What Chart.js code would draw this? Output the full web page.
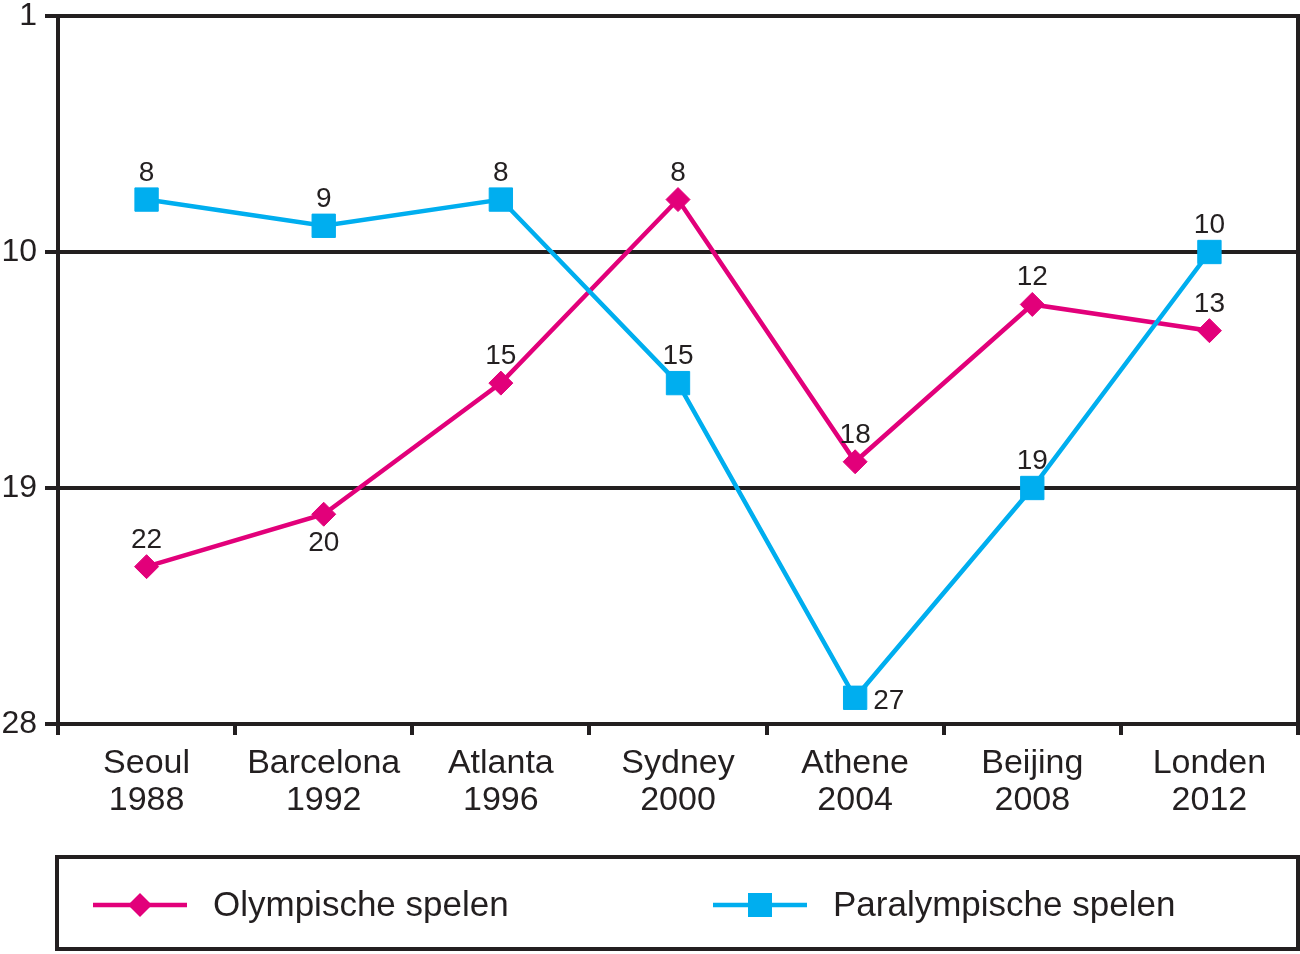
<!DOCTYPE html>
<html>
<head>
<meta charset="utf-8">
<script src="https://cdn.jsdelivr.net/npm/chart.js@4/dist/chart.umd.min.js"></script>
<style>
  body { margin: 0; background: #fff; }
  canvas { display: block; }
</style>
</head>
<body>
<canvas id="myChart" width="1300" height="954"></canvas>
<script>
// data (rangorde in medaillespiegel, 1 = bovenaan)
const categories = [["Seoul", "1988"], ["Barcelona", "1992"], ["Atlanta", "1996"], ["Sydney", "2000"], ["Athene", "2004"], ["Beijing", "2008"], ["Londen", "2012"]];
const olympisch = [22, 20, 15, 8, 18, 12, 13];
const paralympisch = [8, 9, 8, 15, 27, 19, 10];
const yTicks = [1, 10, 19, 28];
// where the value label sits relative to its point
const olympischLabelPos = ["top", "bottom", "top", "top", "top", "top", "top"];
const paralympischLabelPos = ["top", "top", "top", "top", "right", "top", "top"];

const ink = "#231f20";
const magenta = "#e2007a";
const cyaan = "#00aeef";
const fam = "'Liberation Sans', Arial, sans-serif";

// black frame round the plot area
const frame = {
    id: "frame",
    beforeDatasetsDraw(chart) {
        const a = chart.chartArea;
        const ctx = chart.ctx;
        ctx.save();
        ctx.lineWidth = 4;
        ctx.strokeStyle = ink;
        ctx.strokeRect(a.left, a.top, a.right - a.left, a.bottom - a.top);
        ctx.restore();
    }
};

// numbers next to the points
const valueLabels = {
    id: "valueLabels",
    afterDatasetsDraw(chart) {
        const ctx = chart.ctx;
        ctx.save();
        ctx.font = "28px " + fam;
        ctx.fillStyle = ink;
        chart.data.datasets.forEach((ds, i) => {
            const meta = chart.getDatasetMeta(i);
            meta.data.forEach((pt, j) => {
                const txt = String(ds.data[j]);
                const pos = ds.labelPos[j];
                ctx.textBaseline = "alphabetic";
                if (pos === "top") {
                    ctx.textAlign = "center";
                    ctx.fillText(txt, pt.x, pt.y - 19);
                } else if (pos === "bottom") {
                    ctx.textAlign = "center";
                    ctx.fillText(txt, pt.x, pt.y + 37);
                } else {
                    ctx.textAlign = "left";
                    ctx.fillText(txt, pt.x + 18, pt.y + 11);
                }
            });
        });
        ctx.restore();
    }
};

// legend in a framed box under the axis
const legendBox = {
    id: "legendBox",
    afterDraw(chart) {
        const a = chart.chartArea;
        const ctx = chart.ctx;
        ctx.save();
        ctx.lineWidth = 4;
        ctx.strokeStyle = ink;
        ctx.strokeRect(a.left - 1, 857, a.right - a.left + 1, 92);
        const cy = 905;
        const starts = [a.left + 35, a.left + 655];
        chart.data.datasets.forEach((ds, i) => {
            const x0 = starts[i];
            ctx.strokeStyle = ds.borderColor;
            ctx.lineWidth = 4.5;
            ctx.beginPath();
            ctx.moveTo(x0, cy);
            ctx.lineTo(x0 + 94, cy);
            ctx.stroke();
            const mx = x0 + 47;
            ctx.fillStyle = ds.borderColor;
            ctx.beginPath();
            if (ds.pointStyle === "rectRot") {
                ctx.moveTo(mx - 12, cy);
                ctx.lineTo(mx, cy - 12);
                ctx.lineTo(mx + 12, cy);
                ctx.lineTo(mx, cy + 12);
                ctx.closePath();
            } else {
                ctx.rect(mx - 12, cy - 12, 24, 24);
            }
            ctx.fill();
            ctx.fillStyle = ink;
            ctx.font = "35px " + fam;
            ctx.textAlign = "left";
            ctx.textBaseline = "middle";
            ctx.fillText(ds.label, x0 + 120, cy + 1);
        });
        ctx.restore();
    }
};

new Chart("myChart", {
    type: "line",
    data: {
        labels: categories,
        datasets: [{
            label: "Olympische spelen",
            data: olympisch,
            labelPos: olympischLabelPos,
            borderColor: magenta,
            backgroundColor: magenta,
            borderWidth: 4.5,
            pointStyle: "rectRot",
            pointRadius: 12,
            pointBorderWidth: 1,
            pointBackgroundColor: magenta,
            pointBorderColor: magenta,
            tension: 0,
            order: 1
        }, {
            label: "Paralympische spelen",
            data: paralympisch,
            labelPos: paralympischLabelPos,
            borderColor: cyaan,
            backgroundColor: cyaan,
            borderWidth: 4.5,
            pointStyle: "rect",
            pointRadius: 16.5,
            pointBorderWidth: 1,
            pointBackgroundColor: cyaan,
            pointBorderColor: cyaan,
            tension: 0,
            order: 0
        }]
    },
    options: {
        responsive: false,
        animation: false,
        devicePixelRatio: 1,
        events: [],
        layout: { autoPadding: false, padding: { top: 16, right: 2, left: 0, bottom: 0 } },
        plugins: {
            legend: { display: false },
            tooltip: { enabled: false },
            title: { display: false }
        },
        scales: {
            x: {
                offset: true,
                border: { display: false },
                grid: {
                    offset: true,
                    drawOnChartArea: false,
                    drawTicks: true,
                    tickLength: 11,
                    color: ink,
                    lineWidth: 4
                },
                ticks: {
                    color: ink,
                    padding: 10,
                    maxRotation: 0,
                    autoSkip: false,
                    font: { family: fam, size: 34, lineHeight: 1.1 }
                },
                afterFit(scale) {
                    scale.height = 230;
                    scale.paddingLeft = 0;
                    scale.paddingRight = 0;
                }
            },
            y: {
                reverse: true,
                min: 1,
                max: 28,
                border: { display: false },
                grid: {
                    drawTicks: true,
                    tickLength: 13,
                    color: ink,
                    lineWidth: 4
                },
                ticks: {
                    color: ink,
                    padding: 8,
                    font: { family: fam, size: 32 }
                },
                afterBuildTicks(scale) {
                    scale.ticks = yTicks.map(v => ({ value: v }));
                },
                afterFit(scale) {
                    scale.width = 58;
                    scale.paddingTop = 0;
                    scale.paddingBottom = 0;
                }
            }
        }
    },
    plugins: [frame, valueLabels, legendBox]
});
</script>
</body>
</html>
